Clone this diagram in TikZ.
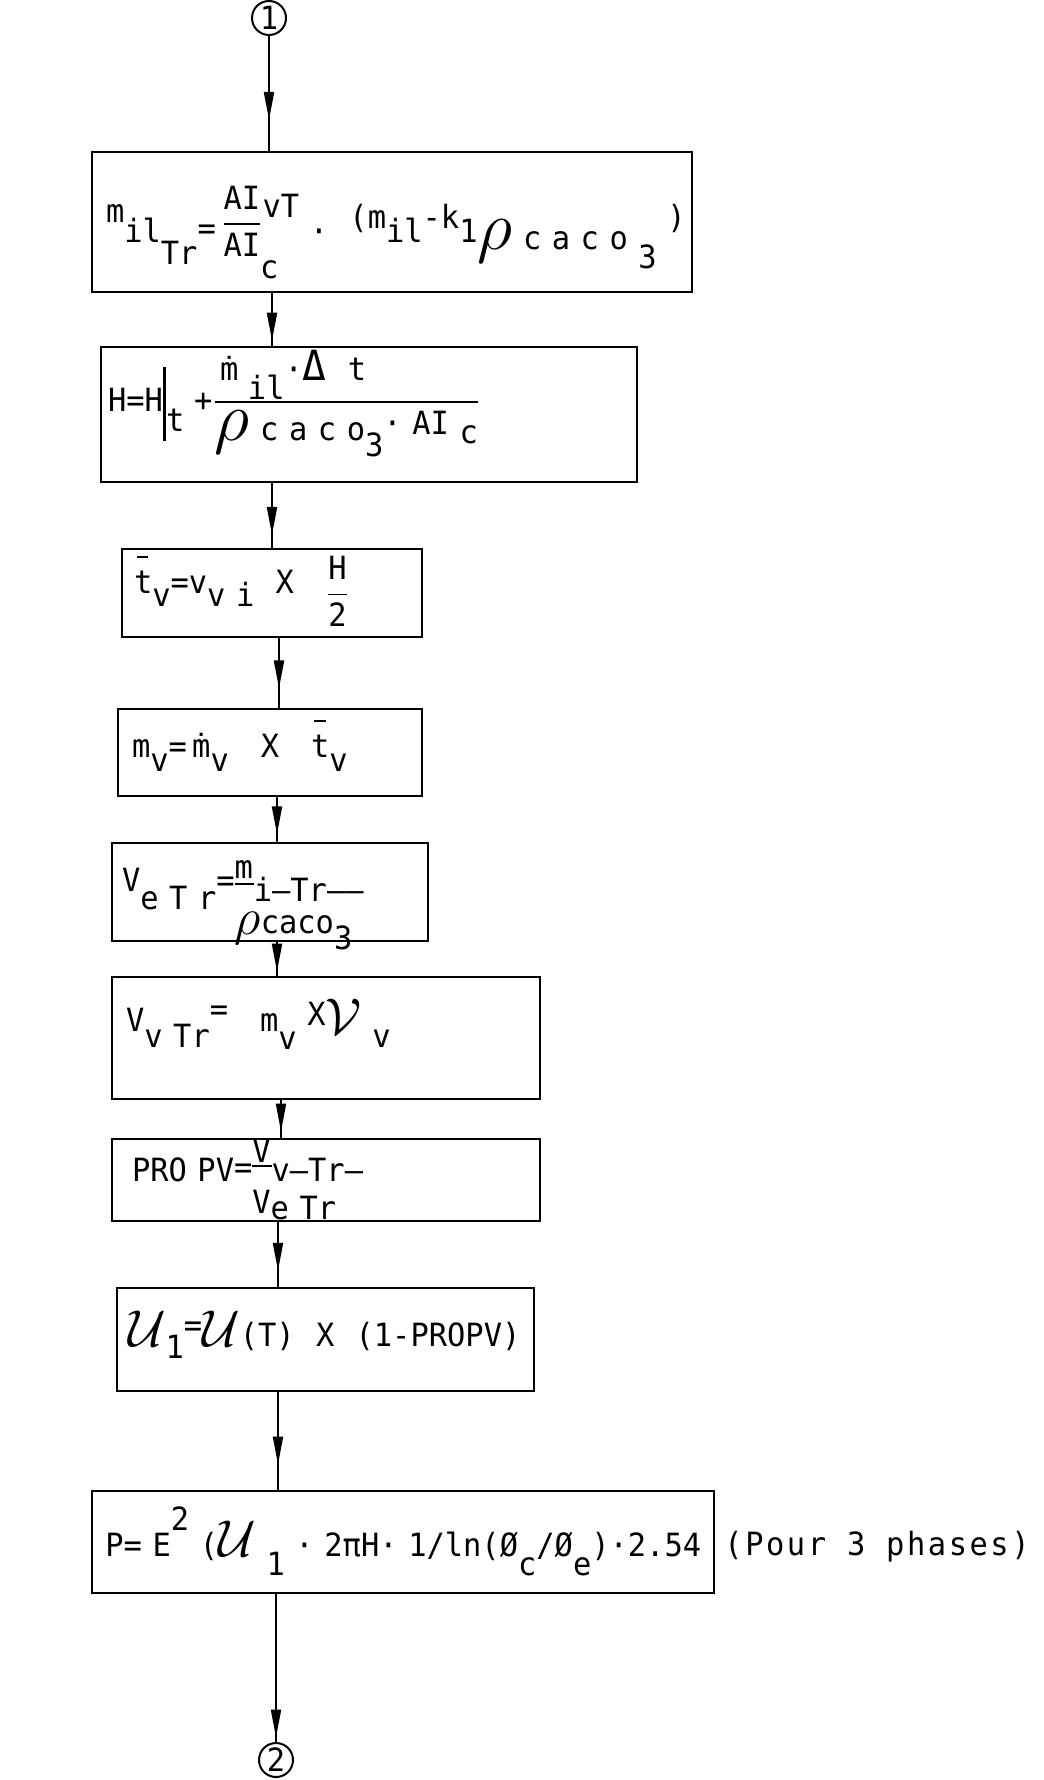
\documentclass[tikz,border=0pt]{standalone}
\usepackage{fontspec}
\setmainfont{DejaVu Sans Mono}[FakeStretch=0.95]
\newfontfamily\widefont{DejaVu Sans Mono}[FakeStretch=0.95,LetterSpace=8]
\usepackage{graphicx}
\usetikzlibrary{arrows.meta,decorations.markings}
\newcommand\fr[2]{$\displaystyle{\mbox{#1}\above0.8pt\mbox{#2}}$}
\newcommand\frl[2]{$\displaystyle{\rlap{\mbox{#1}}\hphantom{\mbox{#2}}\above0.8pt\mbox{#2}}$}
\newcommand\bigrho{\raisebox{-0.2em}{\scalebox{2.0}{$\rho$}}}
\newcommand\midrho{\raisebox{-0.1em}{\scalebox{1.5}{$\rho$}}}
\newcommand\cU{\scalebox{1.5}{$\mathcal{U}$}}
\newcommand\cV{\scalebox{1.5}{$\mathcal{V}$}}
\newcommand\tb{\rlap{\hspace{0.1em}\raisebox{1.1em}{\rule{0.35em}{0.07em}}}t}
\newcommand\gp{\hspace{0.33em}}
\begin{document}
\begin{tikzpicture}[x=0.5pt,y=-0.5pt,
  box/.style={draw, line width=1pt, anchor=north west, align=left, inner ysep=0pt,
    font=\fontsize{16}{19}\selectfont},
  conn/.style={line width=1pt, postaction={decorate},
    decoration={markings, mark=at position #1 with {\arrow{Triangle[length=14pt,width=5pt]}}}},
  conn/.default=0.8,
  term/.style={circle, draw, line width=1pt, minimum size=17pt, inner sep=0pt,
    font=\fontsize{16}{18}\selectfont}]
\useasboundingbox (0,0) rectangle (1043,1780);

\node[term] (c1) at (269,18) {1};

\node[box, minimum width=300pt, minimum height=70pt, inner xsep=7pt, text width=286pt,
  text height=45.5pt, text depth=24.5pt] (b1) at (91,151)
  {\mbox{\raisebox{0.65em}{m}il\raisebox{-0.68em}{Tr}\raisebox{0.1em}{=}\,\raisebox{0.32em}{\fr{AI}{AI\rlap{\raisebox{-0.7em}{c}}}}\raisebox{0.8em}{vT}~·~~\raisebox{0.45em}{(m}il\raisebox{0.45em}{-k}1\bigrho\gp\raisebox{-0.2em}{c\gp a\gp c\gp o}\raisebox{-0.8em}{\gp 3}~\raisebox{0.45em}{)}}};

\node[box, minimum width=268pt, minimum height=67.5pt, inner xsep=3.5pt, text width=261pt,
  text height=32.5pt, text depth=35pt] (b2) at (100,346)
  {\mbox{H=H\rule[-0.9em]{0.1em}{2.3em}\raisebox{-0.6em}{t}\hspace{0.3em}+\raisebox{0.05em}{\frl{\,\raisebox{0.2em}{ṁ}\hspace{0.3em}\raisebox{-0.4em}[0pt][0pt]{il}\raisebox{0.2em}{·\scalebox{1.3}{Δ}~~t}}{\bigrho\gp\raisebox{-0.2em}{c\gp a\gp c\gp o\raisebox{-0.5em}{3}}·~AI\gp\raisebox{-0.3em}{c}}}}};

\node[box, minimum width=150pt, minimum height=44pt, inner xsep=6pt, text width=138pt,
  text height=22.25pt, text depth=21.75pt] (b3) at (121,548)
  {\mbox{\tb\raisebox{-0.4em}{v}=v\raisebox{-0.4em}{v\gp i}~~X~~~\raisebox{-0.3em}{\fr{H}{2}}}};

\node[box, minimum width=152pt, minimum height=43.5pt, inner xsep=7pt, text width=138pt,
  text height=24pt, text depth=19.5pt] (b4) at (117,708)
  {\mbox{m\raisebox{-0.45em}{v}=\,ṁ\raisebox{-0.45em}{v}~~~X~~~\tb\raisebox{-0.45em}{v}}};

\node[box, minimum width=158pt, minimum height=49pt, inner xsep=5pt, text width=148pt,
  text height=29pt, text depth=20pt] (b5) at (111,842)
  {\mbox{\raisebox{0.3em}{V}\raisebox{-0.25em}{e\gp T\gp r}\raisebox{0.3em}{=}\rlap{\raisebox{-0.95em}{\midrho\raisebox{-0.05em}{caco\raisebox{-0.5em}{3}}}}\rlap{\raisebox{0.7em}{m}}\rule[0.5em]{0.6em}{0.07em}i—Tr——}};

\node[box, minimum width=214pt, minimum height=61pt, inner xsep=7pt, text width=200pt,
  text height=27.3pt, text depth=33.7pt] (b6) at (111,976)
  {\mbox{V\raisebox{-0.5em}{v~Tr}\raisebox{0.35em}{=}~~~m\raisebox{-0.55em}{v}~\raisebox{0.2em}{X}\raisebox{-0.1em}{\cV}~\raisebox{-0.5em}{v}}};

\node[box, minimum width=214pt, minimum height=41pt, inner xsep=10pt, text width=194pt,
  text height=21.2pt, text depth=19.8pt] (b7) at (111,1138)
  {\mbox{PRO\gp PV\raisebox{0.1em}{=}\rlap{\raisebox{-1.0em}{V\raisebox{-0.2em}{e~Tr}}}\rlap{\raisebox{0.6em}{V}}\rule[0.45em]{0.6em}{0.07em}v—Tr—}};

\node[box, minimum width=208.5pt, minimum height=51.5pt, inner xsep=5.5pt, text width=197.5pt,
  text height=29pt, text depth=22.5pt] (b8) at (116,1287)
  {\mbox{\cU\raisebox{-0.4em}{1}\raisebox{0.3em}{=}\cU(T)~~X~~(1-PROPV)}};

\node[box, minimum width=311pt, minimum height=51pt, inner xsep=6.7pt, text width=297.6pt,
  text height=32.5pt, text depth=18.5pt] (b9) at (91,1490)
  {\mbox{P=~E\raisebox{0.8em}{2}~(\cU~\raisebox{-0.6em}{1}~·~2πH·~1/ln(Ø\raisebox{-0.6em}{c}/Ø\raisebox{-0.6em}{e})·2.54}};

\node[anchor=base west, inner sep=0pt, font=\widefont\fontsize{16}{19}\selectfont] (note) at (724,1555) {(Pour 3 phases)};

\node[term] (c2) at (276,1760) {2};

\coordinate (k2) at (272,0);
\coordinate (k3) at (272,0);
\coordinate (k4) at (279,0);
\coordinate (k5) at (277,0);
\coordinate (k6) at (277,0);
\coordinate (k7) at (281,0);
\coordinate (k8) at (278,0);
\coordinate (k9) at (278,0);

\draw[conn=0.73] (c1.south) -- (c1.south |- b1.north);
\draw[conn=0.9] (b1.south -| k2) -- (b2.north -| k2);
\draw[conn=0.8] (b2.south -| k3) -- (b3.north -| k3);
\draw[conn=0.72] (b3.south -| k4) -- (b4.north -| k4);
\draw[conn=0.83] (b4.south -| k5) -- (b5.north -| k5);
\draw[conn=0.87] (b5.south -| k6) -- (b6.north -| k6);
\draw[conn=0.83] (b6.south -| k7) -- (b7.north -| k7);
\draw[conn=0.75] (b7.south -| k8) -- (b8.north -| k8);
\draw[conn=0.74] (b8.south -| k9) -- (b9.north -| k9);
\draw[conn=0.97] (b9.south -| c2) -- (c2.north);
\end{tikzpicture}
\end{document}
